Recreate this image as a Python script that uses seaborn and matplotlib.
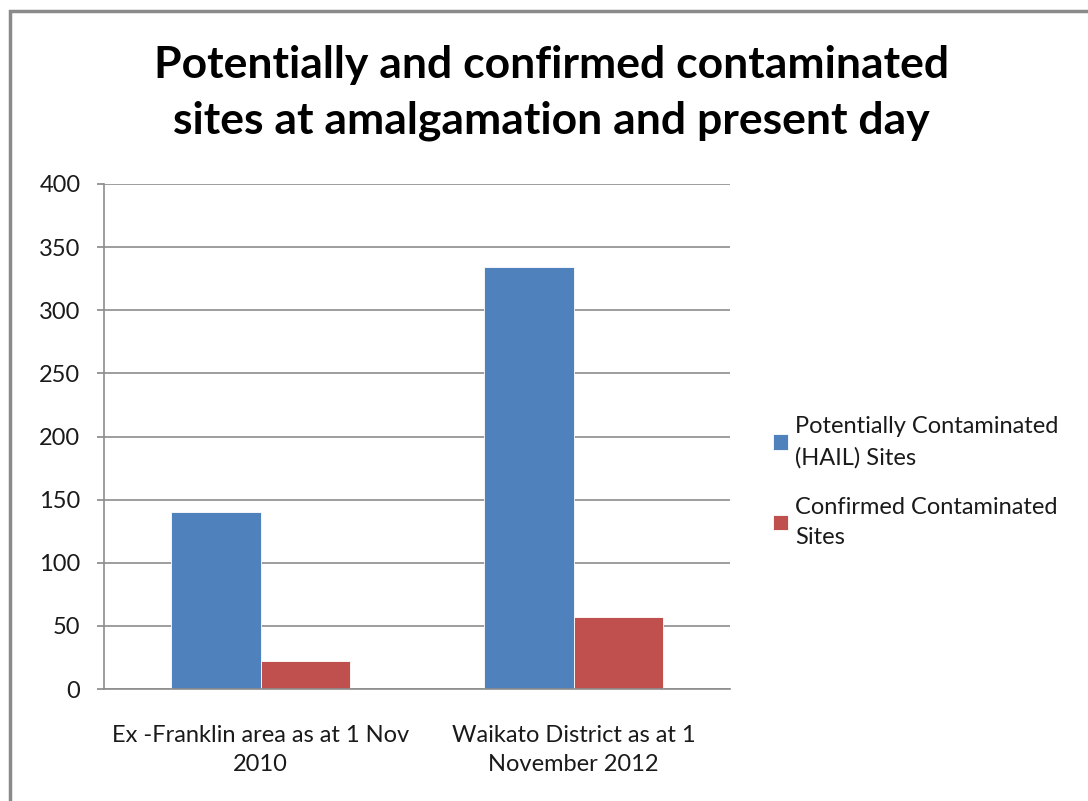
import matplotlib
matplotlib.use("Agg")
import matplotlib.pyplot as plt
import pandas as pd
import seaborn as sns
from matplotlib.patches import Rectangle

# values
categories = ["Ex -Franklin area as at 1 Nov\n2010", "Waikato District as at 1\nNovember 2012"]
series = ["Potentially Contaminated\n(HAIL) Sites", "Confirmed Contaminated\nSites"]
potential = [140, 334]
confirmed = [22, 57]

df = pd.DataFrame({
    "area": categories * 2,
    "kind": [series[0]] * 2 + [series[1]] * 2,
    "sites": potential + confirmed,
})

sns.set_theme(style="white")
plt.rcParams["font.family"] = ["Lato", "DejaVu Sans"]

fig = plt.figure(figsize=(10.88, 8.01), dpi=100)
ax = fig.add_axes([104 / 1088, 1 - 689 / 801, 626 / 1088, 505 / 801])

sns.barplot(data=df, x="area", y="sites", hue="kind", hue_order=series,
            palette=["#4F81BD", "#C0504D"], width=0.57, gap=0,
            edgecolor="white", linewidth=0.6, saturation=1, ax=ax)

ax.set_ylim(0, 400)
ax.set_xlim(-0.5, 1.5)
ax.set_yticks(range(0, 401, 50))
ax.yaxis.grid(True, color="#8c8c8c", linewidth=1.2)
ax.set_axisbelow(True)
ax.set_xlabel("")
ax.set_ylabel("")
for s in ["top", "right"]:
    ax.spines[s].set_visible(False)
for s in ["left", "bottom"]:
    ax.spines[s].set_color("#8c8c8c")
    ax.spines[s].set_linewidth(1.2)
ax.tick_params(axis="y", which="both", left=True, length=5, color="#8c8c8c",
               labelsize=17, labelcolor="#1a1a1a", pad=12)
ax.tick_params(axis="x", bottom=False, labelsize=17, labelcolor="#1a1a1a", pad=20)
for lbl in ax.get_xticklabels():
    lbl.set_linespacing(1.45)

leg = ax.legend(loc="center left", bbox_to_anchor=(1 + 43 / 626, 0.41), frameon=False,
                fontsize=17, handlelength=0.65, handleheight=0.65,
                handletextpad=0.3, labelspacing=1.2, borderpad=0, borderaxespad=0)
for t in leg.get_texts():
    t.set_color("#1a1a1a")
    t.set_linespacing(1.55)

fig.text(0.507, 0.884, "Potentially and confirmed contaminated\nsites at amalgamation and present day",
         ha="center", va="center", fontsize=32, fontweight="bold", linespacing=1.45,
         color="black")

# chart frame
fig.patches.append(Rectangle((10 / 1088, -0.1), 1.2, 1 - 11 / 801 + 0.1,
                             transform=fig.transFigure, fill=False,
                             edgecolor="#8a8a8a", linewidth=2.5))

fig.savefig("out.png", dpi=100, facecolor="white")
